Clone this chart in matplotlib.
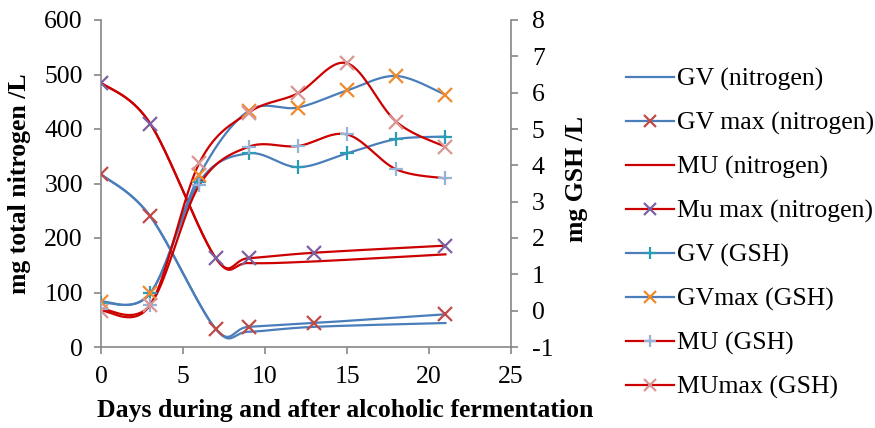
import numpy as np
import matplotlib.pyplot as plt
from matplotlib.lines import Line2D

plt.rcParams['font.family'] = ['Liberation Serif', 'DejaVu Serif']
plt.rcParams['axes.unicode_minus'] = False

# nitrogen (left axis, mg/L)
days_n = [0, 3, 7, 9, 13, 21]
gv_n = [317, 240, 33, 28, 37, 44]
gv_max_n = [317, 240, 33, 37, 44, 60]
mu_n = [485, 410, 163, 154, 157, 170]
mu_max_n = [485, 410, 163, 163, 173, 186]

# GSH (right axis, mg/L)
days_g = [0, 3, 6, 9, 12, 15, 18, 21]
gv_g = [0.22, 0.48, 3.55, 4.33, 3.95, 4.33, 4.72, 4.79]
gv_max_g = [0.25, 0.48, 3.73, 5.50, 5.59, 6.06, 6.46, 5.94]
mu_g = [0.05, 0.16, 3.46, 4.51, 4.53, 4.85, 3.89, 3.64]
mu_max_g = [0.0, 0.16, 4.07, 5.45, 5.98, 6.81, 5.20, 4.51]

labels = ["GV (nitrogen)", "GV max (nitrogen)", "MU (nitrogen)", "Mu max (nitrogen)",
          "GV (GSH)", "GVmax (GSH)", "MU (GSH)", "MUmax (GSH)"]

BLUE = '#4a7ebb'
RED = '#cc0000'
FS = 18.5


def smooth(x, y, n=40):
    # excel-like smoothed line: catmull-rom control points, cubic bezier segments
    p = np.column_stack([x, y]).astype(float)
    out = [p[0]]
    t = np.linspace(0, 1, n)[1:, None]
    for i in range(len(p) - 1):
        p0 = p[i - 1] if i > 0 else p[i]
        p1 = p[i]
        p2 = p[i + 1]
        p3 = p[i + 2] if i + 2 < len(p) else p[i + 1]
        c1 = p1 + (p2 - p0) / 6
        c2 = p2 - (p3 - p1) / 6
        seg = (1 - t) ** 3 * p1 + 3 * (1 - t) ** 2 * t * c1 + 3 * (1 - t) * t ** 2 * c2 + t ** 3 * p2
        out.extend(seg)
    out = np.array(out)
    return out[:, 0], out[:, 1]


def draw(ax, x, y, color, marker=None, mcolor=None):
    sx, sy = smooth(x, y)
    ax.plot(sx, sy, color=color, lw=1.6, zorder=2)
    if marker:
        ax.plot(x, y, ls='none', marker=marker, ms=10, mew=1.6, color=mcolor, zorder=3)


fig = plt.figure(figsize=(8.75, 4.28), dpi=100)
ax = fig.add_axes([101 / 875, 1 - 347 / 428, 410 / 875, 327 / 428])
ax2 = ax.twinx()

draw(ax, days_n, gv_n, BLUE)
draw(ax, days_n, gv_max_n, BLUE, 'x', '#be4b48')
draw(ax, days_n, mu_n, RED)
draw(ax, days_n, mu_max_n, RED, 'x', '#7d60a0')
draw(ax2, days_g, gv_g, BLUE, '+', '#2c9cb6')
draw(ax2, days_g, gv_max_g, BLUE, 'x', '#f08a2c')
draw(ax2, days_g, mu_g, RED, '+', '#95b3d7')
draw(ax2, days_g, mu_max_g, RED, 'x', '#d99694')

ax.set_xlim(0, 25)
ax.set_ylim(0, 600)
ax2.set_ylim(-1, 8)
ax.set_xticks(range(0, 26, 5))
ax.set_yticks(range(0, 601, 100))
ax2.set_yticks(range(-1, 9))

grey = '#868686'
for a in (ax, ax2):
    for s in a.spines.values():
        s.set_color(grey)
        s.set_linewidth(1.2)
    a.spines['top'].set_visible(False)
    a.tick_params(colors=grey, labelcolor='black', labelsize=FS, length=5, width=1.2)
ax.spines['right'].set_visible(False)
ax2.spines['left'].set_visible(False)
ax2.spines['bottom'].set_visible(False)
ax.tick_params(axis='y', pad=8)
ax.tick_params(axis='x', pad=9)
ax2.tick_params(axis='y', pad=10)

fig.text(20 / 875, 1 - 184 / 428, "mg total nitrogen /L", rotation=90, ha='center', va='center',
         fontsize=FS, fontweight='bold')
fig.text(576 / 875, 1 - 179 / 428, "mg GSH /L", rotation=90, ha='center', va='center',
         fontsize=FS, fontweight='bold')
fig.text(345 / 875, 1 - 411 / 428, "Days during and after alcoholic fermentation", ha='center',
         va='center', fontsize=FS, fontweight='bold')

handles = [
    Line2D([], [], color=BLUE, lw=1.6),
    Line2D([], [], color=BLUE, lw=1.6, marker='x', ms=8, mew=1.6, mec='#be4b48'),
    Line2D([], [], color=RED, lw=1.6),
    Line2D([], [], color=RED, lw=1.6, marker='x', ms=8, mew=1.6, mec='#7d60a0'),
    Line2D([], [], color=BLUE, lw=1.6, marker='+', ms=8, mew=1.6, mec='#2c9cb6'),
    Line2D([], [], color=BLUE, lw=1.6, marker='x', ms=8, mew=1.6, mec='#f08a2c'),
    Line2D([], [], color=RED, lw=1.6, marker='+', ms=8, mew=1.6, mec='#95b3d7'),
    Line2D([], [], color=RED, lw=1.6, marker='x', ms=8, mew=1.6, mec='#d99694'),
]
fig.legend(handles, labels, loc='upper left', bbox_to_anchor=(626 / 875, 1 - 68 / 428),
           frameon=False, fontsize=FS, handlelength=1.85, handletextpad=0.12,
           labelspacing=0.8, borderaxespad=0, borderpad=0)

fig.savefig('out.png', dpi=100)
